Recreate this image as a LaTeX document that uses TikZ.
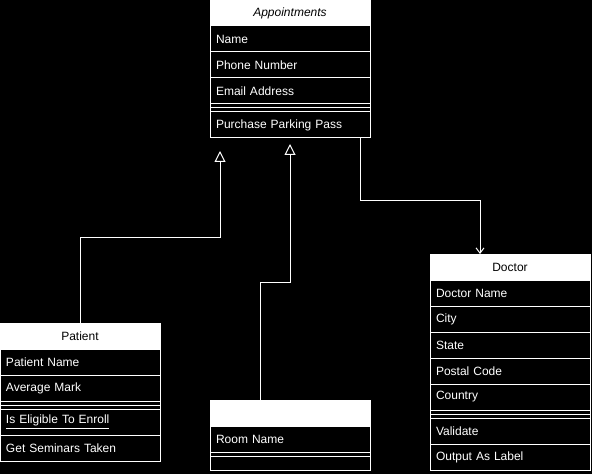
\documentclass[tikz,border=0pt]{standalone}
\usepackage{fontspec}
\setmainfont{Liberation Sans}
\usetikzlibrary{positioning,calc,arrows.meta}
\tikzset{
  classhead/.style={draw=white,fill=white,text=black,outer sep=0pt,inner sep=0pt,
    minimum width=120pt,minimum height=19.5pt,align=center},
  classrow/.style={draw=white,fill=black,text=white,outer sep=0pt,inner xsep=4.5pt,inner ysep=0pt,
    text width=111pt,minimum height=19.5pt,align=left},
  classsep/.style={draw=white,fill=black,outer sep=0pt,inner sep=0pt,
    minimum width=120pt,minimum height=6pt},
  classend/.style={outer sep=0pt,inner sep=0pt,minimum width=120pt,minimum height=7.5pt},
  link/.style={draw=white,line width=0.75pt},
  extends/.style={link,-{Triangle[open,length=8.25pt,width=8.25pt]}},
  uses/.style={link,-{Straight Barb[length=4pt,width=6pt]}}
}
\def\classhead{\node[classhead,anchor=north west]}
\def\classrow{\node[classrow]}
\def\classsep{\node[classsep]}
\def\sepline#1{\draw[white,line width=0.75pt] (#1.west) -- (#1.east);}

\begin{document}
\begin{tikzpicture}[x=0.75pt,y=-0.75pt,line width=0.75pt,font=\fontsize{9}{11}\selectfont]
\fill[black] (0,0) rectangle (592,474);
\useasboundingbox (0,0) rectangle (592,474);
% Appointments
\classhead (apt-head) at (210,0) {\itshape Appointments};
\classrow[below=0pt of apt-head] (apt-name) {Name};
\classrow[below=0pt of apt-name] (apt-phone) {Phone Number};
\classrow[below=0pt of apt-phone] (apt-mail) {Email Address};
\classsep[below=0pt of apt-mail] (apt-sep) {};
\sepline{apt-sep}
\classrow[below=0pt of apt-sep] (apt-ops) {Purchase Parking Pass};
% Patient
\classhead (pat-head) at (0,323) {Patient};
\classrow[below=0pt of pat-head] (pat-name) {Patient Name};
\classrow[below=0pt of pat-name] (pat-mark) {Average Mark};
\classsep[below=0pt of pat-mark] (pat-sep) {};
\sepline{pat-sep}
\classrow[below=0pt of pat-sep] (pat-enroll) {\underline{Is Eligible To Enroll}};
\classrow[below=0pt of pat-enroll] (pat-seminars) {Get Seminars Taken};
% Room
\classhead (room-head) at (210,400) {};
\classrow[below=0pt of room-head] (room-name) {Room Name};
\classsep[draw=none,fill=none,below=0pt of room-name] (room-sep) {};
\sepline{room-sep}
\node[classend,below=0pt of room-sep] (room-ops) {};
\draw[white] (room-name.south west) |- (room-ops.south east) -- (room-name.south east);
% Doctor
\classhead (doc-head) at (430,254) {Doctor};
\classrow[below=0pt of doc-head] (doc-name) {Doctor Name};
\classrow[below=0pt of doc-name] (doc-city) {City};
\classrow[below=0pt of doc-city] (doc-state) {State};
\classrow[below=0pt of doc-state] (doc-postal) {Postal Code};
\classrow[below=0pt of doc-postal] (doc-country) {Country};
\classsep[below=0pt of doc-country] (doc-sep) {};
\sepline{doc-sep}
\classrow[below=0pt of doc-sep] (doc-validate) {Validate};
\classrow[below=0pt of doc-validate] (doc-label) {Output As Label};
% links
\coordinate (apt-tipA) at (220,151);
\coordinate (apt-tipB) at (290,144);
\draw[extends] (pat-head.north) -- ++(0,-86) -| (apt-tipA);
\draw[extends] ($(room-head.north)+(-30,0)$) -- ++(0,-118) -| (apt-tipB);
\draw[uses] ($(apt-ops.south)+(70,0)$) -- ++(0,62) -| ($(doc-head.north)+(-30,0)$);
\end{tikzpicture}
\end{document}
